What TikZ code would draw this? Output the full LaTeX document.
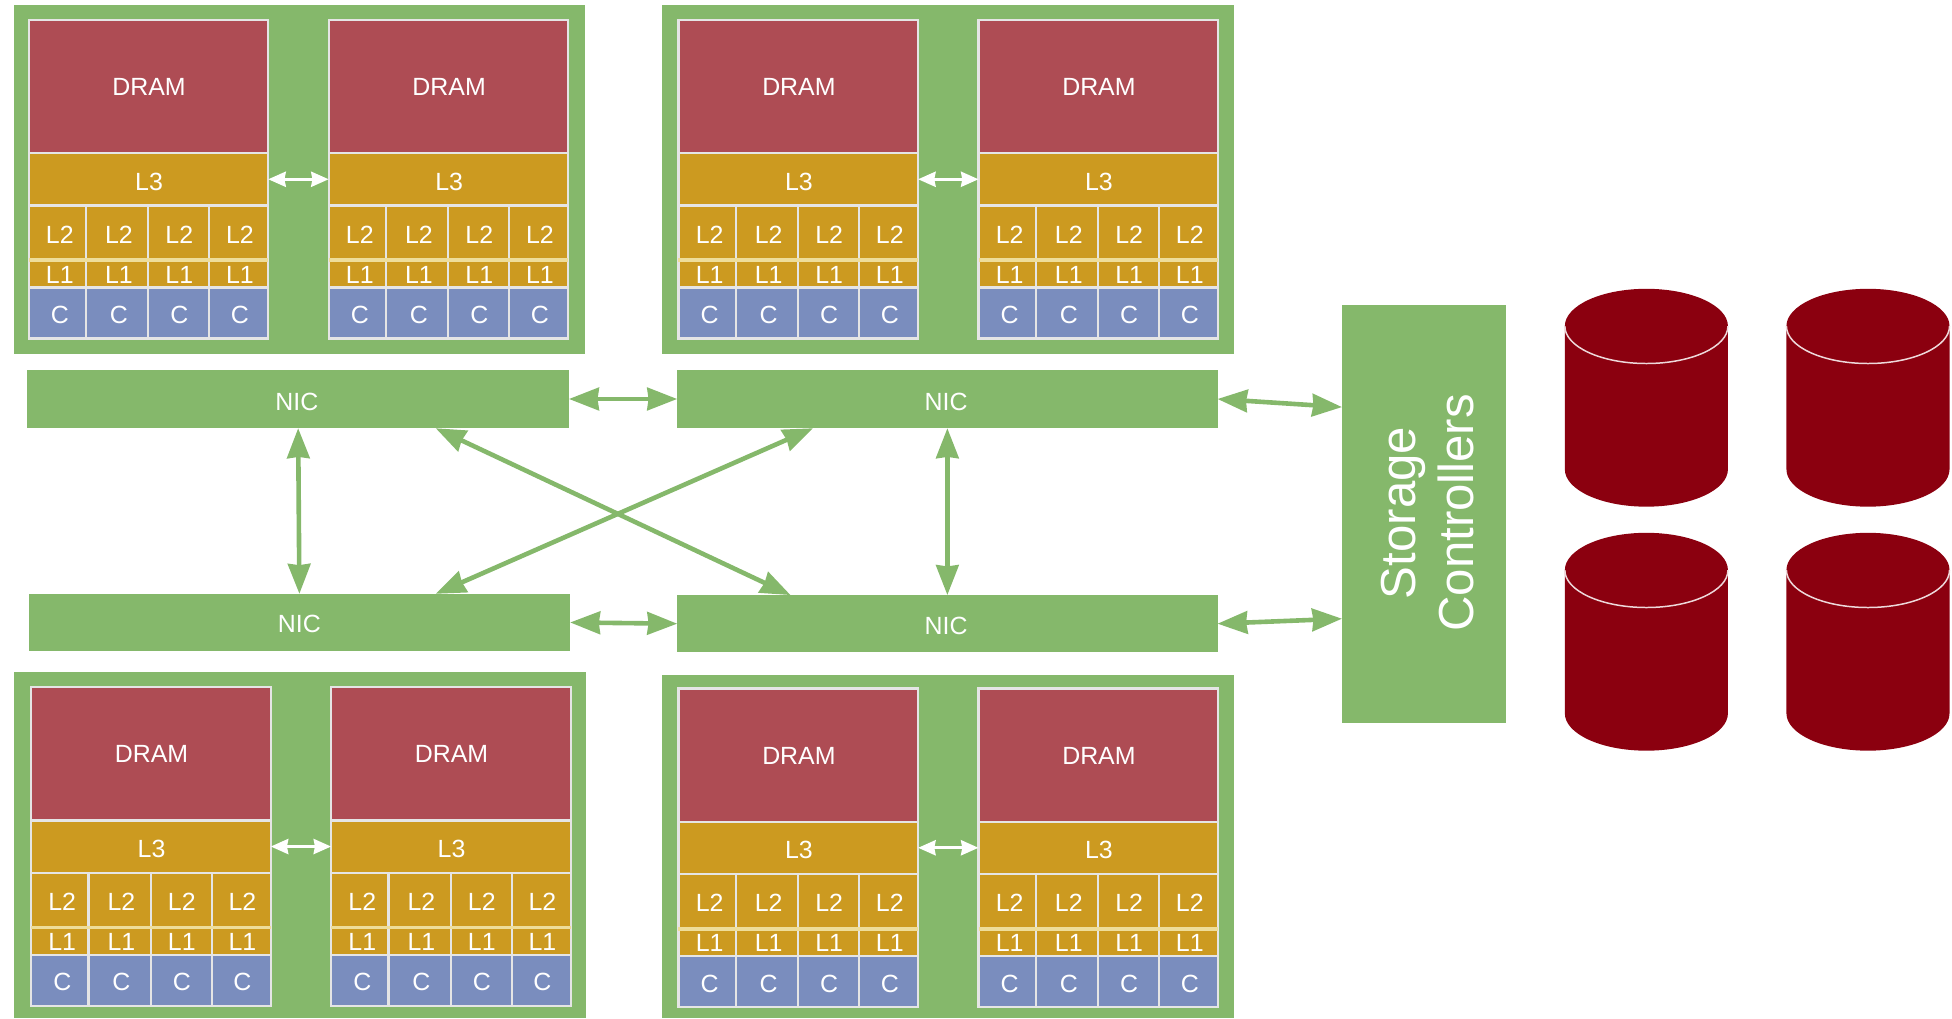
\documentclass[tikz,border=0pt]{standalone}
\usepackage{fontspec}
\setmainfont{Liberation Sans}
\usetikzlibrary{arrows.meta,calc}
\definecolor{pkggreen}{HTML}{85B86B}
\definecolor{dramred}{HTML}{AE4C54}
\definecolor{cachegold}{HTML}{CC9A20}
\definecolor{coreblue}{HTML}{7A8DBE}
\definecolor{diskred}{HTML}{8B000F}
\definecolor{seamgold}{HTML}{EEDD9A}
\tikzset{
  box/.style={rectangle,inner sep=0pt,outer sep=0pt,anchor=north west},
  pkgbox/.style={box,fill=pkggreen},
  cell/.style={box,draw=white!90!black,line width=1.8pt},
  dramcell/.style={cell,fill=dramred},
  cachecell/.style={cell,fill=cachegold},
  corecell/.style={cell,fill=coreblue},
  celltext/.style={text=white,inner sep=0pt,font=\fontsize{20}{24}\selectfont},
  seam/.style={draw=seamgold,line width=3pt},
  niclink/.style={draw=pkggreen,line width=3.7pt,{Stealth[length=24pt,width=18pt,inset=1pt]}-{Stealth[length=24pt,width=18pt,inset=1pt]}},
  qpilink/.style={draw=white,line width=2.6pt,{Stealth[length=14pt,width=12pt,inset=1pt]}-{Stealth[length=14pt,width=12pt,inset=1pt]}},
  disk/.style={fill=diskred,draw=none},
  diskrim/.style={draw=white!85!diskred,line width=1.2pt}
}
% name, x, y of the socket's top left corner
\newcommand{\cpusock}[3]{%
  \node[dramcell,minimum width=192.5pt,minimum height=107pt] (#1-dram) at (#2,#3) {};
  \node[celltext] at ($(#1-dram.center)+(0.5,0.5)$) (#1-dramt) {DRAM};
  \node[cachecell,minimum width=192.5pt,minimum height=42pt] (#1-l3) at (#2,#3+107) {};
  \node[celltext] at ($(#1-l3.center)+(0.5,2)$) (#1-l3t) {L3};
  \foreach \i/\a/\w/\s in {1/0/46/2,2/46/50/1.5,3/96/49/0.5,4/145/47.5/1}{
    \node[cachecell,minimum width=\w pt,minimum height=44pt] (#1-ltwo\i) at (#2+\a,#3+149) {};
    \node[celltext] at ($(#1-ltwo\i.center)+(\s,1.5)$) (#1-ltwot\i) {L2};
    \node[cachecell,minimum width=\w pt,minimum height=22pt] (#1-lone\i) at (#2+\a,#3+193) {};
    \node[celltext] at ($(#1-lone\i.center)+(\s,0.5)$) (#1-lonet\i) {L1};
    \node[corecell,minimum width=\w pt,minimum height=41pt] (#1-core\i) at (#2+\a,#3+215) {};
    \node[celltext] at ($(#1-core\i.center)+(\s,1.5)$) (#1-coret\i) {C};
  }
  \draw[seam] (#1-ltwo1.south west) -- (#1-ltwo4.south east);
}
% cylinder: x of the left side, y of the top
\newcommand{\diskdrum}[2]{%
  \path[disk] (#1,#2+30) arc[x radius=65.5,y radius=30,start angle=180,end angle=360]
    -- (#1+131,#2+145) arc[x radius=65.5,y radius=30,start angle=0,end angle=180] -- cycle;
  \draw[diskrim] (#1,#2+30) arc[x radius=65.5,y radius=30,start angle=180,end angle=0];
}
\begin{document}
\begin{tikzpicture}[x=1pt,y=-1pt]
\useasboundingbox (0,0) rectangle (1568,818);
% packages
\node[pkgbox,minimum width=459pt,minimum height=280pt] (pkgA) at (11,4) {};
\node[pkgbox,minimum width=459pt,minimum height=280pt] (pkgB) at (532,4) {};
\node[pkgbox,minimum width=460pt,minimum height=278pt] (pkgC) at (11,540) {};
\node[pkgbox,minimum width=459pt,minimum height=276pt] (pkgD) at (532,542) {};
% sockets
\cpusock{a}{23}{16}
\cpusock{b}{264}{16}
\cpusock{c}{545}{16}
\cpusock{d}{786}{16}
\cpusock{e}{25}{552}
\cpusock{f}{266}{552}
\cpusock{g}{545}{553}
\cpusock{h}{786}{553}
% socket links
\draw[qpilink] (a-l3.east) -- (b-l3.west);
\draw[qpilink] (c-l3.east) -- (d-l3.west);
\draw[qpilink] (e-l3.east) -- (f-l3.west);
\draw[qpilink] (g-l3.east) -- (h-l3.west);
% NICs
\node[pkgbox,minimum width=435pt,minimum height=47pt] (nicA) at (22,297) {};
\node[pkgbox,minimum width=434pt,minimum height=47pt] (nicB) at (544,297) {};
\node[pkgbox,minimum width=435pt,minimum height=46pt] (nicC) at (23,477) {};
\node[pkgbox,minimum width=434pt,minimum height=46pt] (nicD) at (544,478) {};
\node[celltext] at ($(nicA.center)+(-1,2)$) (nicAt) {NIC};
\node[celltext] at ($(nicB.center)+(-1,2)$) (nicBt) {NIC};
\node[celltext] at ($(nicC.center)+(0,1.5)$) (nicCt) {NIC};
\node[celltext] at ($(nicD.center)+(-1,2)$) (nicDt) {NIC};
% storage
\node[pkgbox,minimum width=132pt,minimum height=336pt] (store) at (1078,245) {};
\node[rotate=90,text=white,align=center,inner sep=0pt,font=\fontsize{39.5}{46.5}\selectfont] (storet) at ($(store.center)+(3,-1)$) {Storage\\Controllers};
% NIC links
\draw[niclink] (nicA.east) -- (nicB.west);
\draw[niclink] (nicC.east) -- (nicD.west);
\draw[niclink] (nicB.east) -- ($(store.north west)+(0,82)$);
\draw[niclink] (nicD.east) -- ($(store.north west)+(0,252)$);
\draw[niclink] (nicA.south) -- (nicC.north);
\draw[niclink] (nicB.south) -- (nicD.north);
\draw[niclink] ($(nicA.south west)+(328,0)$) -- ($(nicD.north west)+(91,0)$);
\draw[niclink] ($(nicB.south west)+(109,0)$) -- ($(nicC.north west)+(327,0)$);
% disks
\diskdrum{1257}{232}
\diskdrum{1435}{232}
\diskdrum{1257}{428}
\diskdrum{1435}{428}
\end{tikzpicture}
\end{document}
